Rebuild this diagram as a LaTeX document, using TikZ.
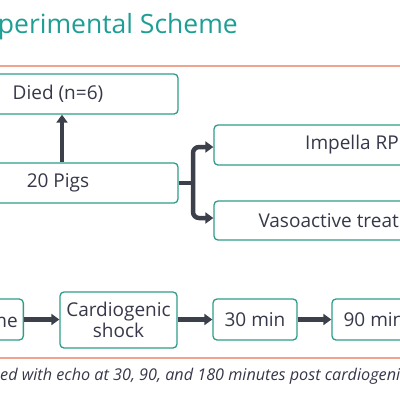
\documentclass[tikz,border=0pt]{standalone}
\usepackage{fontspec}
\setmainfont{Open Sans}
\usetikzlibrary{arrows.meta}
\definecolor{teal1}{HTML}{1E9E94}
\definecolor{boxline}{HTML}{2E9C88}
\definecolor{arr}{HTML}{3C404B}
\definecolor{txt}{HTML}{363849}
\definecolor{rule}{HTML}{F0A48E}
\tikzset{
  box/.style={draw=boxline, line width=1.3pt, rounded corners=4pt, text=txt,
    font=\fontsize{19}{22}\selectfont, inner sep=0pt, align=center},
  conn/.style={draw=arr, line width=4.5pt, -{Triangle[length=8pt,width=11pt]}},
}
\begin{document}
\begin{tikzpicture}[x=1pt,y=-1pt]
\useasboundingbox (0,0) rectangle (400,400);
\clip (0,0) rectangle (400,400);
\node[anchor=base east, text=teal1, font=\fontsize{26.5}{30}\selectfont, inner sep=0pt] (title) at (238,33) {Experimental Scheme};
\draw[rule, line width=1.6pt] (0,66) -- (400,66);
\draw[rule, line width=1.3pt] (0,358) -- (400,358);
% boxes
\node[box, minimum width=240pt, minimum height=40pt] (died) at (58,94) {Died (n=6)};
\node[box, minimum width=240pt, minimum height=40pt] (pigs) at (58,183) {20 Pigs};
\node[box, minimum width=276pt, minimum height=40pt] (imp) at (352,145) {Impella RP};
\node[box, minimum width=276pt, minimum height=39pt] (vaso) at (352,220.5) {Vasoactive treatment};
% bottom
\node[box, minimum width=84pt, minimum height=41pt, anchor=east] (base) at (24,319.5) {};
\node[anchor=base east, inner sep=0pt, text=txt, font=\fontsize{19}{22}\selectfont] (metxt) at (18,327) {me};
\node[box, minimum width=117pt, minimum height=56pt, font=\fontsize{19}{21}\selectfont] (cs) at (118.5,320) {Cardiogenic\\shock};
\node[box, minimum width=84pt, minimum height=41pt] (t30) at (255,319.5) {30 min};
\node[box, minimum width=84pt, minimum height=41pt] (t90) at (374,319.5) {90 min};
% connectors
\draw[conn] (pigs.north -| died.south) ++(4,0) coordinate (pu) -- (pu |- died.south);
\coordinate (br) at (193,183);
\draw[draw=arr, line width=4.5pt] (pigs.east) -- (br);
\draw[conn, rounded corners=6pt] (br) -- (193,147) -- (imp.west |- 0,147);
\draw[conn, rounded corners=6pt] (br) -- (193,218) -- (vaso.west |- 0,218);
\draw[conn] (base.east) -- (cs.west |- base.east);
\draw[conn] (cs.east |- t30.west) -- (t30.west);
\draw[conn] (t30.east) -- (t90.west);
% caption
\node[anchor=base west, inner sep=0pt, text=txt, font=\itshape\fontsize{16.2}{20}\selectfont] (cap) at (0,380) {ed with echo at 30, 90, and 180 minutes post cardiogenic};
\end{tikzpicture}
\end{document}
